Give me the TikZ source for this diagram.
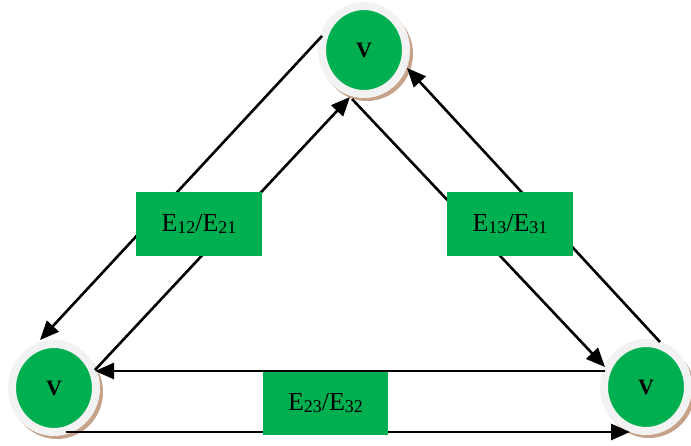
\documentclass[tikz,border=0pt]{standalone}
\usepackage{fontspec}
\setmainfont{Liberation Serif}
\usetikzlibrary{arrows.meta,shapes.geometric}
\definecolor{vgreen}{RGB}{0,176,80}
\definecolor{vshadow}{RGB}{198,162,138}
\definecolor{vring}{RGB}{242,242,242}
\newcommand\esub[1]{\raisebox{-2pt}{\fontsize{18}{18}\selectfont #1}}
\begin{document}
\begin{tikzpicture}[x=1pt,y=-1pt,
  conn/.style={line width=2.6pt,-{Triangle[length=19pt,width=16pt]}},
  ebox/.style={fill=vgreen,draw=none,minimum width=126pt,minimum height=64pt,inner sep=0pt,font=\fontsize{26}{26}\selectfont},
  vnode/.style={ellipse,fill=vgreen,draw=vring,line width=8pt,minimum width=84pt,minimum height=88pt,inner sep=0pt,font=\fontsize{22}{22}\selectfont\bfseries},
  vshad/.style={fill=vshadow}]
\useasboundingbox (0,0) rectangle (691,445);
% shadows
\fill[vshad] (367,54) ellipse [x radius=46pt, y radius=47pt];
\fill[vshad] (57,392) ellipse [x radius=46pt, y radius=47pt];
\fill[vshad] (649,391) ellipse [x radius=46pt, y radius=47pt];
% vertices
\node[vnode] (v1) at (364,50) {V};
\node[vnode] (v2) at (54,388) {V};
\node[vnode] (v3) at (646,387) {V};
% connector end points
\coordinate (a1) at (322,36);  \coordinate (a2) at (40,340);
\coordinate (b1) at (95,370);  \coordinate (b2) at (350,97);
\coordinate (c1) at (352,99);  \coordinate (c2) at (605,367);
\coordinate (d1) at (660,342); \coordinate (d2) at (407,68);
\coordinate (e1) at (605,371); \coordinate (e2) at (95,371);
\coordinate (f1) at (66,432);  \coordinate (f2) at (630,432);
% connectors
\draw[conn] (a1) -- (a2);
\draw[conn] (b1) -- (b2);
\draw[conn] (c1) -- (c2);
\draw[conn] (d1) -- (d2);
\draw[conn] (e1) -- (e2);
\draw[conn] (f1) -- (f2);
% edge labels
\node[ebox] (e12) at (199,224) {E\esub{12}/E\esub{21}};
\node[ebox] (e13) at (510,224) {E\esub{13}/E\esub{31}};
\node[ebox,minimum width=125pt,minimum height=63pt] (e23) at (325.5,403.5) {E\esub{23}/E\esub{32}};
\end{tikzpicture}
\end{document}
